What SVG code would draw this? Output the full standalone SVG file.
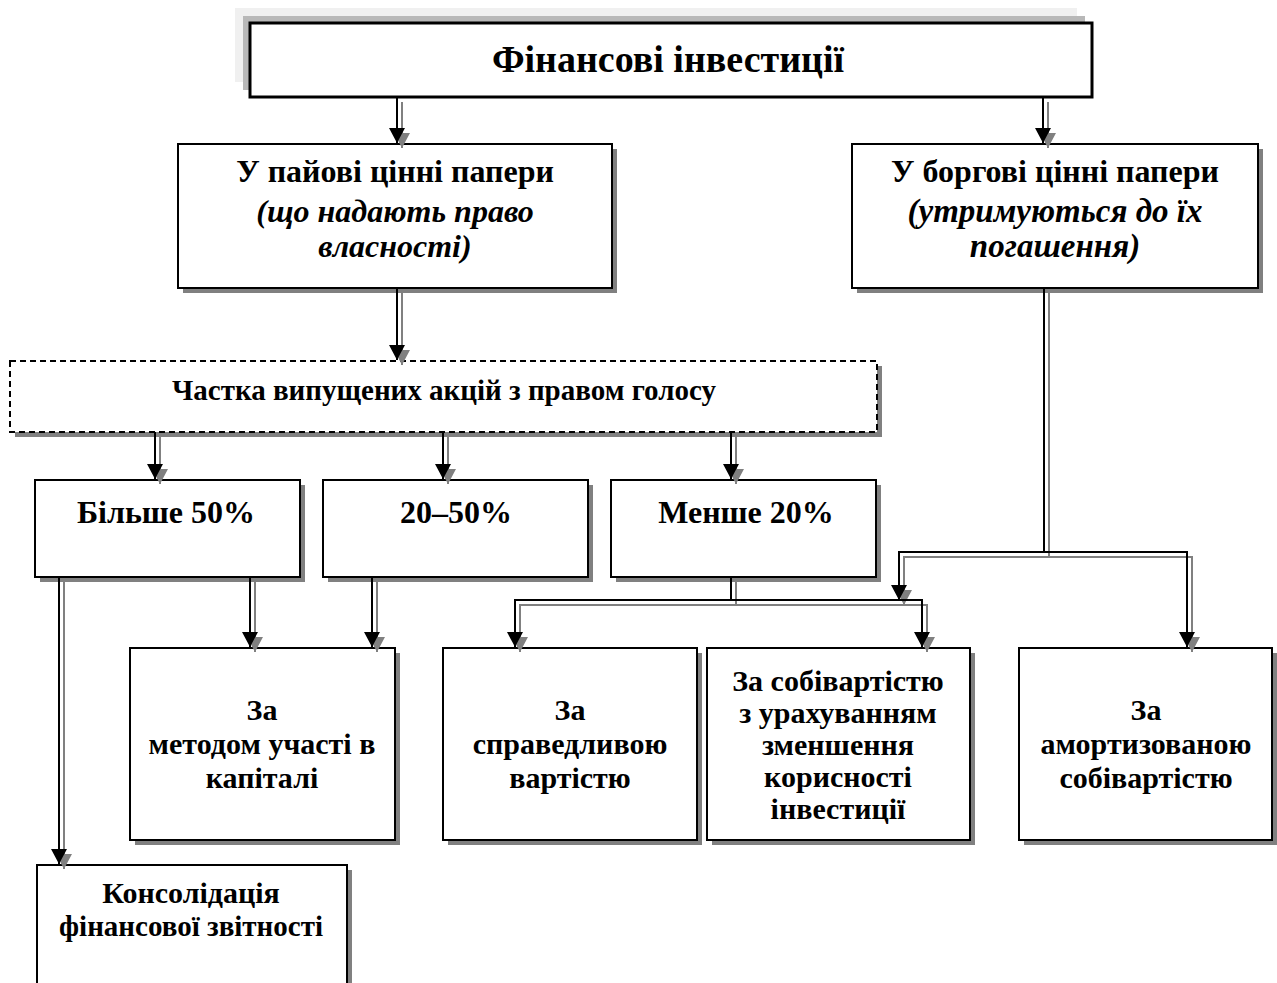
<svg xmlns="http://www.w3.org/2000/svg" width="1277" height="983" viewBox="0 0 1277 983">
<defs>
<marker id="ab" markerUnits="userSpaceOnUse" markerWidth="16" markerHeight="16" refX="15" refY="8" orient="auto"><path d="M0,0 L15,8 L0,16 Z" fill="#000"/></marker>
<marker id="ag" markerUnits="userSpaceOnUse" markerWidth="16" markerHeight="16" refX="15" refY="8" orient="auto"><path d="M0,0 L15,8 L0,16 Z" fill="#808080"/></marker>
</defs>
<style>
.box{fill:#fff;stroke:#000;stroke-width:2}
.sh{fill:#808080}
.t{font-family:"Liberation Serif","Times New Roman",serif;font-weight:bold;font-size:30px;text-anchor:middle;fill:#000}
.l{font-size:32px}
.i{font-style:italic}
.cb{fill:none;stroke:#000;stroke-width:2;marker-end:url(#ab)}
.cg{fill:none;stroke:#808080;stroke-width:2;marker-end:url(#ag)}
.ln{fill:none;stroke:#000;stroke-width:2}
.lg{fill:none;stroke:#808080;stroke-width:2}
</style>
<rect width="1277" height="983" fill="#fff"/>

<g id="n-top">
<rect x="235" y="8" width="842" height="74" fill="#f0f0f0"/>
<rect x="243" y="16" width="842" height="74" fill="#b8b8b8"/>
<rect x="250" y="23" width="842" height="74" fill="#fff" stroke="#000" stroke-width="3"/>
<text class="t" x="668" y="72" style="font-size:38px">Фінансові інвестиції</text>
</g>

<g id="n-payovi">
<rect class="sh" x="183" y="149" width="434" height="144"/>
<rect class="box" x="178" y="144" width="434" height="144"/>
<text class="t l" x="395" y="182">У пайові цінні папери</text>
<text class="t l i" x="395" y="222">(що надають право</text>
<text class="t l i" x="395" y="257">власності)</text>
</g>

<g id="n-borg">
<rect class="sh" x="857" y="149" width="406" height="144"/>
<rect class="box" x="852" y="144" width="406" height="144"/>
<text class="t l" x="1055" y="182">У боргові цінні папери</text>
<text class="t l i" x="1055" y="222" style="font-size:33px">(утримуються до їх</text>
<text class="t l i" x="1055" y="257" style="font-size:33px">погашення)</text>
</g>

<g id="n-chastka">
<rect class="sh" x="15" y="366" width="867" height="71"/>
<rect x="10" y="361" width="867" height="71" fill="#fff" stroke="#000" stroke-width="2" stroke-dasharray="6,4"/>
<text class="t" x="444" y="400" style="font-size:29px">Частка випущених акцій з правом голосу</text>
</g>

<g id="n-b50">
<rect class="sh" x="40" y="485" width="265" height="97"/>
<rect class="box" x="35" y="480" width="265" height="97"/>
<text class="t l" x="166" y="523">Більше 50%</text>
</g>
<g id="n-2050">
<rect class="sh" x="328" y="485" width="265" height="97"/>
<rect class="box" x="323" y="480" width="265" height="97"/>
<text class="t l" x="456" y="523">20–50%</text>
</g>
<g id="n-m20">
<rect class="sh" x="616" y="485" width="265" height="97"/>
<rect class="box" x="611" y="480" width="265" height="97"/>
<text class="t l" x="746" y="523">Менше 20%</text>
</g>

<g id="n-metod">
<rect class="sh" x="135" y="653" width="265" height="192"/>
<rect class="box" x="130" y="648" width="265" height="192"/>
<text class="t" x="262" y="720">За</text>
<text class="t" x="262" y="754">методом участі в</text>
<text class="t" x="262" y="788">капіталі</text>
</g>
<g id="n-sprav">
<rect class="sh" x="448" y="653" width="254" height="192"/>
<rect class="box" x="443" y="648" width="254" height="192"/>
<text class="t" x="570" y="720">За</text>
<text class="t" x="570" y="754">справедливою</text>
<text class="t" x="570" y="788">вартістю</text>
</g>
<g id="n-sobiv">
<rect class="sh" x="712" y="653" width="263" height="192"/>
<rect class="box" x="707" y="648" width="263" height="192"/>
<text class="t" x="838" y="691">За собівартістю</text>
<text class="t" x="838" y="723">з урахуванням</text>
<text class="t" x="838" y="755">зменшення</text>
<text class="t" x="838" y="787">корисності</text>
<text class="t" x="838" y="819">інвестиції</text>
</g>
<g id="n-amort">
<rect class="sh" x="1024" y="653" width="253" height="192"/>
<rect class="box" x="1019" y="648" width="253" height="192"/>
<text class="t" x="1146" y="720">За</text>
<text class="t" x="1146" y="754">амортизованою</text>
<text class="t" x="1146" y="788">собівартістю</text>
</g>
<g id="n-kons">
<rect class="sh" x="42" y="870" width="310" height="130"/>
<rect class="box" x="37" y="865" width="310" height="130"/>
<text class="t" x="191" y="903">Консолідація</text>
<text class="t" x="191" y="936" style="font-size:29px">фінансової звітності</text>
</g>

<g id="connectors">
<g id="conn-shadow" transform="translate(5,5)">
<path class="cg" d="M397,97 V143"/>
<path class="cg" d="M1043,97 V143"/>
<path class="cg" d="M397,288 V360"/>
<path class="cg" d="M155,432 V479"/>
<path class="cg" d="M443,432 V479"/>
<path class="cg" d="M731,432 V479"/>
<path class="cg" d="M59,577 V864"/>
<path class="cg" d="M250,577 V647"/>
<path class="cg" d="M372,577 V647"/>
<path class="lg" d="M731,577 V600"/>
<path class="cg" d="M731,600 H515 V647"/>
<path class="cg" d="M731,600 H922 V647"/>
<path class="lg" d="M1044,288 V552"/>
<path class="cg" d="M1044,552 H899 V600"/>
<path class="cg" d="M1044,552 H1187 V647"/>
</g>
<g id="conn-main">
<path class="cb" d="M397,97 V143"/>
<path class="cb" d="M1043,97 V143"/>
<path class="cb" d="M397,288 V360"/>
<path class="cb" d="M155,432 V479"/>
<path class="cb" d="M443,432 V479"/>
<path class="cb" d="M731,432 V479"/>
<path class="cb" d="M59,577 V864"/>
<path class="cb" d="M250,577 V647"/>
<path class="cb" d="M372,577 V647"/>
<path class="ln" d="M731,577 V600"/>
<path class="cb" d="M731,600 H515 V647"/>
<path class="cb" d="M731,600 H922 V647"/>
<path class="ln" d="M1044,288 V552"/>
<path class="cb" d="M1044,552 H899 V600"/>
<path class="cb" d="M1044,552 H1187 V647"/>
</g>
</g>
</svg>
